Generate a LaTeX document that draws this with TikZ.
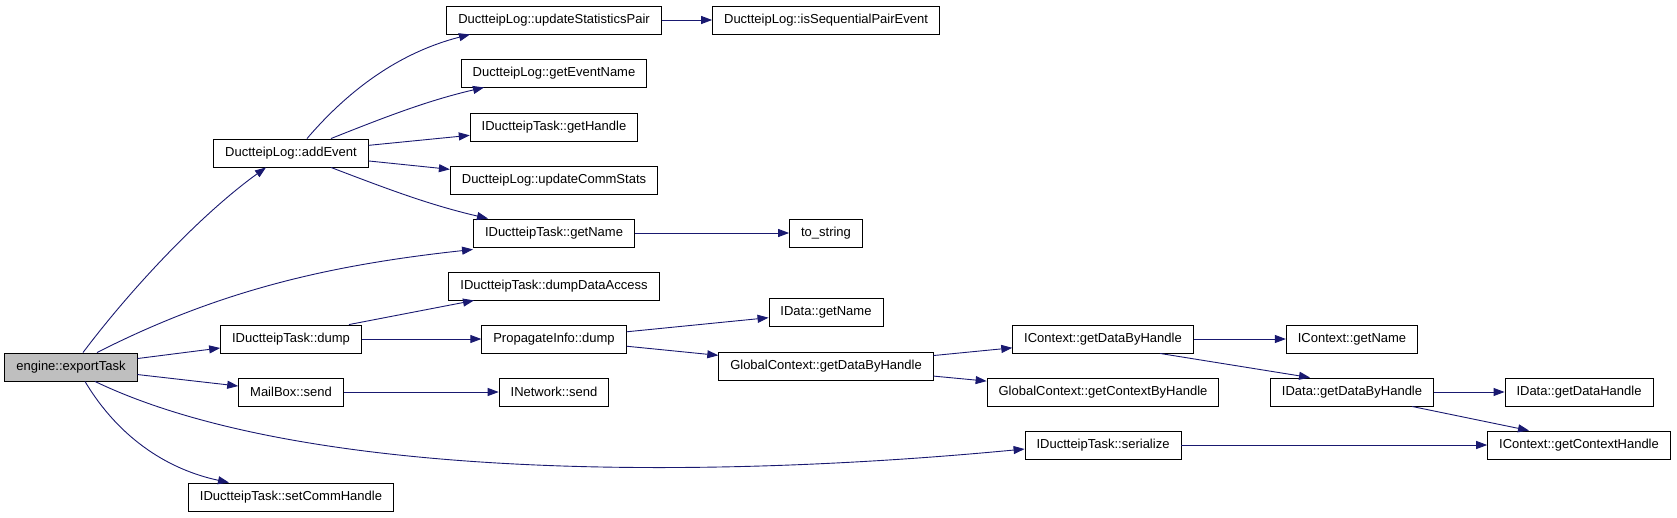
\documentclass[tikz,border=0pt]{standalone}
\usepackage{fontspec}
\setmainfont{Liberation Sans}
\usepackage{xcolor}
\usetikzlibrary{arrows.meta, shapes, positioning}

\definecolor{edgeblue}{HTML}{191970}

\begin{document}
\begin{tikzpicture}[x=1pt, y=-1pt,
  fn/.style={rectangle, draw=black, line width=0.9pt, fill=white, inner xsep=11.5pt,
             inner ysep=0pt, minimum height=28pt, text centered,
             font=\fontsize{13}{15}\selectfont},
  root/.style={fn, fill=gray!50},
  call/.style={draw=edgeblue, line width=0.9pt,
               -{Triangle[length=11pt, width=8pt, fill=edgeblue]}}
]
\useasboundingbox (0,0) rectangle (1677,517);

% caller
\node[root] (export)  at (71,367)   {engine::exportTask};

% first level
\node[fn] (addevent)  at (291,153)  {DuctteipLog::addEvent};
\node[fn] (dump)      at (291,339)  {IDuctteipTask::dump};
\node[fn] (mailsend)  at (291,392)  {MailBox::send};
\node[fn] (setcomm)   at (291,497)  {IDuctteipTask::setCommHandle};

% second level
\node[fn] (updpair)   at (554,20)   {DuctteipLog::updateStatisticsPair};
\node[fn] (evname)    at (554,73)   {DuctteipLog::getEventName};
\node[fn] (gethandle) at (554,127)  {IDuctteipTask::getHandle};
\node[fn] (commstats) at (554,180)  {DuctteipLog::updateCommStats};
\node[fn] (getname)   at (554,233)  {IDuctteipTask::getName};
\node[fn] (dumpdata)  at (554,286)  {IDuctteipTask::dumpDataAccess};
\node[fn] (propdump)  at (554,339)  {PropagateInfo::dump};
\node[fn] (netsend)   at (554,392)  {INetwork::send};

% third level
\node[fn] (seqpair)   at (826,20)   {DuctteipLog::isSequentialPairEvent};
\node[fn] (tostring)  at (826,233)  {to\_string};
\node[fn] (dataname)  at (826,312)  {IData::getName};
\node[fn] (gcdata)    at (826,366)  {GlobalContext::getDataByHandle};

% fourth level
\node[fn] (icdata)    at (1103,339) {IContext::getDataByHandle};
\node[fn] (gcctx)     at (1103,392) {GlobalContext::getContextByHandle};
\node[fn] (serialize) at (1103,445) {IDuctteipTask::serialize};

% fifth level
\node[fn] (icname)    at (1352,339) {IContext::getName};
\node[fn] (iddata)    at (1352,392) {IData::getDataByHandle};

% sixth level
\node[fn] (idhandle)  at (1579,392) {IData::getDataHandle};
\node[fn] (ichandle)  at (1579,445) {IContext::getContextHandle};

% calls from exportTask
\draw[call] ([xshift=12]export.north) .. controls (130,290) and (200,215) .. ([xshift=-25]addevent.south);
\draw[call] ([xshift=26]export.north) .. controls (220,290) and (330,265) .. ([yshift=-2]getname.south west);
\draw[call] (export) -- (dump);
\draw[call] (export) -- (mailsend);
\draw[call] ([xshift=24]export.south) .. controls (300,480) and (700,480) .. ([yshift=-4]serialize.west);
\draw[call] ([xshift=14]export.south) .. controls (120,440) and (170,470) .. ([xshift=-62]setcomm.north);

% calls from addEvent
\draw[call] ([xshift=16]addevent.north) .. controls (340,100) and (390,55) .. ([xshift=-84]updpair.south);
\draw[call] ([xshift=40]addevent.north) .. controls (390,115) and (430,100) .. ([xshift=-70]evname.south);
\draw[call] (addevent) -- (gethandle);
\draw[call] (addevent) -- (commstats);
\draw[call] ([xshift=40]addevent.south) .. controls (390,190) and (430,205) .. ([xshift=-66]getname.north);

\draw[call] (updpair) -- (seqpair);
\draw[call] (getname) -- (tostring);

% calls from dump
\draw[call] ([xshift=58]dump.north) -- ([xshift=-80]dumpdata.south);
\draw[call] (dump) -- (propdump);
\draw[call] (mailsend) -- (netsend);

\draw[call] (propdump) -- (dataname);
\draw[call] (propdump) -- (gcdata);
\draw[call] (gcdata) -- (icdata);
\draw[call] (gcdata) -- (gcctx);

\draw[call] (icdata) -- (icname);
\draw[call] ([xshift=57]icdata.south) -- ([xshift=-42]iddata.north);
\draw[call] (iddata) -- (idhandle);
\draw[call] ([xshift=60]iddata.south) -- ([xshift=-50]ichandle.north);
\draw[call] (serialize) -- (ichandle);
\end{tikzpicture}
\end{document}
